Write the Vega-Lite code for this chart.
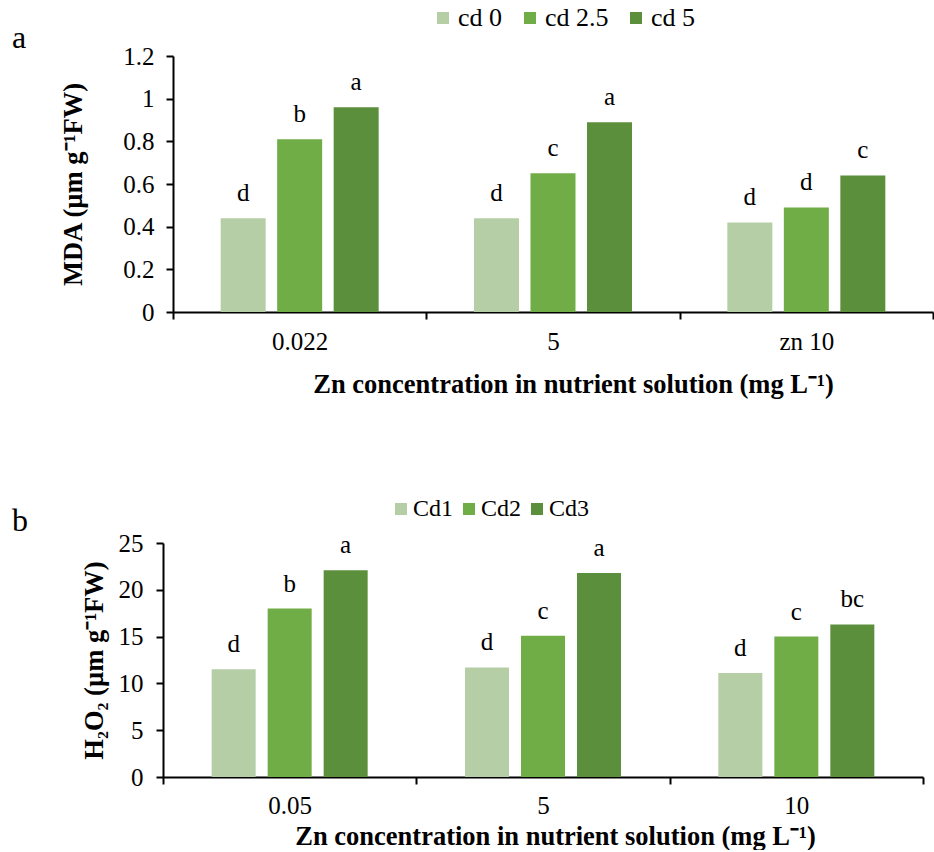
{
  "$schema": "https://vega.github.io/schema/vega-lite/v6.json",
  "padding": {"left": 12, "top": 5, "right": 0, "bottom": 0},
  "background": "white",
  "spacing": 99,
  "resolve": {"scale": {"color": "independent"}, "legend": {"color": "independent"}},
  "config": {
    "view": {"stroke": null},
    "font": "Liberation Serif",
    "axis": {"labelFont": "Liberation Serif", "titleFont": "Liberation Serif", "labelColor": "black", "titleColor": "black", "domainColor": "black", "tickColor": "black", "domainWidth": 2, "tickWidth": 2, "tickSize": 7, "grid": false, "labelFontSize": 25, "titleFontSize": 26.5, "titleFontWeight": "bold"},
    "legend": {"labelFont": "Liberation Serif", "labelFontSize": 26, "labelColor": "black", "symbolType": "square", "symbolSize": 144, "symbolStrokeWidth": 0, "direction": "horizontal", "orient": "none", "title": null},
    "text": {"font": "Liberation Serif", "fontSize": 25, "color": "black", "baseline": "alphabetic", "dy": -17},
    "title": {"font": "Liberation Serif"}
  },
  "vconcat": [
    {
      "width": 760,
      "height": 256,
      "title": {"text": "a", "anchor": "start", "frame": "group", "dx": -161, "dy": 50, "fontSize": 32, "font": "Liberation Serif", "fontWeight": "normal", "color": "black", "offset": 0},
      "data": {"values": [
        {"zn": "0.022", "cd": "cd 0", "mda": 0.44, "sig": "d"},
        {"zn": "0.022", "cd": "cd 2.5", "mda": 0.81, "sig": "b"},
        {"zn": "0.022", "cd": "cd 5", "mda": 0.96, "sig": "a"},
        {"zn": "5", "cd": "cd 0", "mda": 0.44, "sig": "d"},
        {"zn": "5", "cd": "cd 2.5", "mda": 0.65, "sig": "c"},
        {"zn": "5", "cd": "cd 5", "mda": 0.89, "sig": "a"},
        {"zn": "zn 10", "cd": "cd 0", "mda": 0.42, "sig": "d"},
        {"zn": "zn 10", "cd": "cd 2.5", "mda": 0.49, "sig": "d"},
        {"zn": "zn 10", "cd": "cd 5", "mda": 0.64, "sig": "c"}
      ]},
      "encoding": {
        "x": {"field": "zn", "type": "nominal", "sort": ["0.022", "5", "zn 10"], "scale": {"type": "band", "paddingInner": 0, "paddingOuter": 0},
          "axis": {"title": "Zn concentration in nutrient solution (mg L⁻¹)", "labelAngle": 0, "labelPadding": 10, "tickBand": "extent", "titlePadding": 17, "titleX": 400}},
        "y": {"field": "mda", "type": "quantitative", "scale": {"domain": [0, 1.2], "nice": false},
          "axis": {"title": "MDA (µm g⁻¹FW)", "values": [0, 0.2, 0.4, 0.6, 0.8, 1, 1.2], "format": "~g", "labelPadding": 12, "titlePadding": 35}}
      },
      "layer": [
        {"transform": [{"filter": "datum.cd === 'cd 0'"}], "mark": {"type": "bar", "width": 45, "xOffset": -56.5},
          "encoding": {"color": {"field": "cd", "type": "nominal", "scale": {"domain": ["cd 0", "cd 2.5", "cd 5"], "range": ["#b5cea6", "#70ad47", "#5b8f3b"]},
            "legend": {"legendX": 257, "legendY": -51, "labelOffset": 2, "columnPadding": 14}}}},
        {"transform": [{"filter": "datum.cd === 'cd 2.5'"}], "mark": {"type": "bar", "width": 45, "xOffset": 0},
          "encoding": {"color": {"field": "cd", "type": "nominal", "scale": {"domain": ["cd 0", "cd 2.5", "cd 5"], "range": ["#b5cea6", "#70ad47", "#5b8f3b"]},
            "legend": {"legendX": 257, "legendY": -51, "labelOffset": 2, "columnPadding": 14}}}},
        {"transform": [{"filter": "datum.cd === 'cd 5'"}], "mark": {"type": "bar", "width": 45, "xOffset": 56.5},
          "encoding": {"color": {"field": "cd", "type": "nominal", "scale": {"domain": ["cd 0", "cd 2.5", "cd 5"], "range": ["#b5cea6", "#70ad47", "#5b8f3b"]},
            "legend": {"legendX": 257, "legendY": -51, "labelOffset": 2, "columnPadding": 14}}}},
        {"transform": [{"filter": "datum.cd === 'cd 0'"}], "mark": {"type": "text", "xOffset": -56.5}, "encoding": {"text": {"field": "sig"}}},
        {"transform": [{"filter": "datum.cd === 'cd 2.5'"}], "mark": {"type": "text", "xOffset": 0}, "encoding": {"text": {"field": "sig"}}},
        {"transform": [{"filter": "datum.cd === 'cd 5'"}], "mark": {"type": "text", "xOffset": 56.5}, "encoding": {"text": {"field": "sig"}}}
      ]
    },
    {
      "width": 760,
      "height": 234,
      "title": {"text": "b", "anchor": "start", "frame": "group", "dx": -161, "dy": 41, "fontSize": 32, "font": "Liberation Serif", "fontWeight": "normal", "color": "black", "offset": 0},
      "data": {"values": [
        {"zn": "0.05", "cd": "Cd1", "h2o2": 11.5, "sig": "d"},
        {"zn": "0.05", "cd": "Cd2", "h2o2": 18.0, "sig": "b"},
        {"zn": "0.05", "cd": "Cd3", "h2o2": 22.1, "sig": "a"},
        {"zn": "5", "cd": "Cd1", "h2o2": 11.7, "sig": "d"},
        {"zn": "5", "cd": "Cd2", "h2o2": 15.1, "sig": "c"},
        {"zn": "5", "cd": "Cd3", "h2o2": 21.8, "sig": "a"},
        {"zn": "10", "cd": "Cd1", "h2o2": 11.1, "sig": "d"},
        {"zn": "10", "cd": "Cd2", "h2o2": 15.0, "sig": "c"},
        {"zn": "10", "cd": "Cd3", "h2o2": 16.3, "sig": "bc"}
      ]},
      "encoding": {
        "x": {"field": "zn", "type": "nominal", "sort": ["0.05", "5", "10"], "scale": {"type": "band", "paddingInner": 0, "paddingOuter": 0, "range": [-10, 750]},
          "axis": {"title": "Zn concentration in nutrient solution (mg L⁻¹)", "labelAngle": 0, "labelPadding": 9, "tickBand": "extent", "titlePadding": 5, "titleX": 382}},
        "y": {"field": "h2o2", "type": "quantitative", "scale": {"domain": [0, 25], "nice": false},
          "axis": {"title": "H₂O₂ (µm g⁻¹FW)", "values": [0, 5, 10, 15, 20, 25], "labelPadding": 13, "titlePadding": 10, "offset": 10}}
      },
      "layer": [
        {"transform": [{"filter": "datum.cd === 'Cd1'"}], "mark": {"type": "bar", "width": 44, "xOffset": -56},
          "encoding": {"color": {"field": "cd", "type": "nominal", "scale": {"domain": ["Cd1", "Cd2", "Cd3"], "range": ["#b5cea6", "#70ad47", "#5b8f3b"]},
            "legend": {"legendX": 216, "legendY": -46, "labelOffset": 0, "columnPadding": 3, "labelFontSize": 24}}}},
        {"transform": [{"filter": "datum.cd === 'Cd2'"}], "mark": {"type": "bar", "width": 44, "xOffset": 0},
          "encoding": {"color": {"field": "cd", "type": "nominal", "scale": {"domain": ["Cd1", "Cd2", "Cd3"], "range": ["#b5cea6", "#70ad47", "#5b8f3b"]},
            "legend": {"legendX": 216, "legendY": -46, "labelOffset": 0, "columnPadding": 3, "labelFontSize": 24}}}},
        {"transform": [{"filter": "datum.cd === 'Cd3'"}], "mark": {"type": "bar", "width": 44, "xOffset": 56},
          "encoding": {"color": {"field": "cd", "type": "nominal", "scale": {"domain": ["Cd1", "Cd2", "Cd3"], "range": ["#b5cea6", "#70ad47", "#5b8f3b"]},
            "legend": {"legendX": 216, "legendY": -46, "labelOffset": 0, "columnPadding": 3, "labelFontSize": 24}}}},
        {"transform": [{"filter": "datum.cd === 'Cd1'"}], "mark": {"type": "text", "xOffset": -56}, "encoding": {"text": {"field": "sig"}}},
        {"transform": [{"filter": "datum.cd === 'Cd2'"}], "mark": {"type": "text", "xOffset": 0}, "encoding": {"text": {"field": "sig"}}},
        {"transform": [{"filter": "datum.cd === 'Cd3'"}], "mark": {"type": "text", "xOffset": 56}, "encoding": {"text": {"field": "sig"}}}
      ]
    }
  ]
}
